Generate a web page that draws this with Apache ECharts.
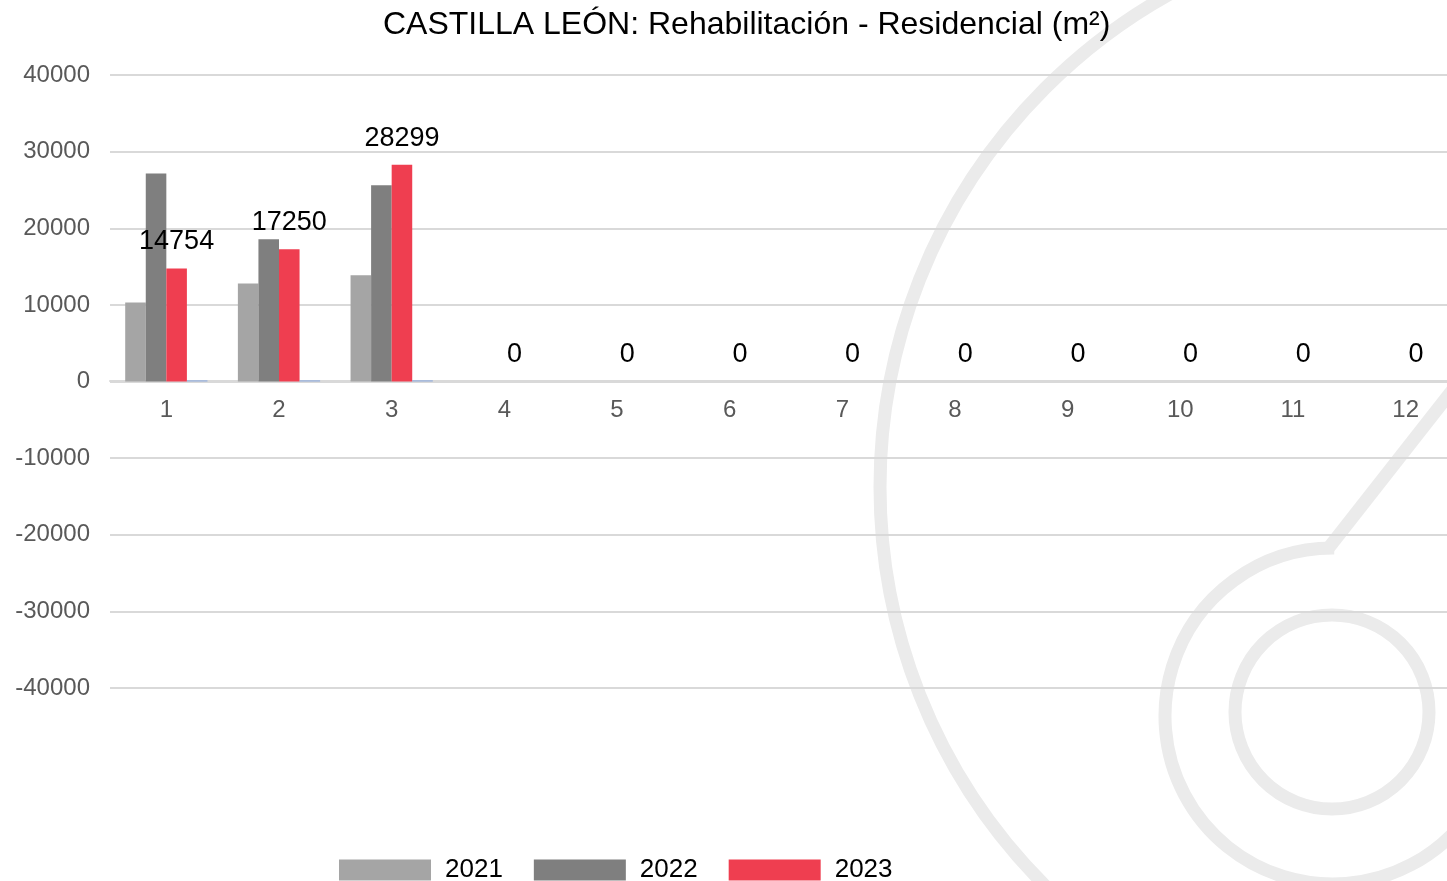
<!DOCTYPE html>
<html>
<head>
<meta charset="utf-8">
<title>CASTILLA LEÓN: Rehabilitación - Residencial</title>
<script src="https://cdn.jsdelivr.net/npm/echarts@6/dist/echarts.min.js"></script>
<style>
  html, body { margin: 0; padding: 0; background: #fff; }
  #chart { width: 1447px; height: 881px; }
</style>
</head>
<body>
<div id="chart"></div>
<script>
const months = ["1", "2", "3", "4", "5", "6", "7", "8", "9", "10", "11", "12"];
const serie2021 = [10300, 12800, 13850, null, null, null, null, null, null, null, null, null];
const serie2022 = [27150, 18550, 25600, null, null, null, null, null, null, null, null, null];
const serie2023 = [14754, 17250, 28299, 0, 0, 0, 0, 0, 0, 0, 0, 0];
// serie sin leyenda, casi a cero
const serieExtra = [150, 150, 150, null, null, null, null, null, null, null, null, null];
const yTicks = [-40000, 40000, 10000];

const chartDom = document.getElementById("chart");
const myChart = echarts.init(chartDom);

const watermark = "#ebebeb";
const font = "Liberation Sans";

const option = {
  animation: false,
  title: {
    text: "CASTILLA LEÓN: Rehabilitación - Residencial (m²)",
    left: 378,
    top: 4,
    textStyle: {
      fontFamily: font,
      fontSize: 32,
      fontWeight: "normal",
      color: "#000",
    },
  },
  graphic: [
    {
      type: "circle",
      z: -10,
      silent: true,
      shape: { cx: 1444, cy: 487, r: 564 },
      style: { fill: "none", stroke: watermark, lineWidth: 13 },
    },
    {
      type: "arc",
      z: -10,
      silent: true,
      shape: { cx: 1333, cy: 716, r: 168, startAngle: 0.3, endAngle: 4.72, clockwise: true },
      style: { fill: "none", stroke: watermark, lineWidth: 13 },
    },
    {
      type: "line",
      z: -10,
      silent: true,
      shape: { x1: 1327, y1: 550, x2: 1480, y2: 355 },
      style: { stroke: watermark, lineWidth: 13 },
    },
    {
      type: "circle",
      z: -10,
      silent: true,
      shape: { cx: 1332, cy: 712, r: 97 },
      style: { fill: "none", stroke: watermark, lineWidth: 13 },
    },
  ],
  legend: {
    data: ["2021", "2022", "2023"],
    left: 334,
    top: 852,
    itemWidth: 92,
    itemHeight: 21,
    itemGap: 31,
    icon: "rect",
    textStyle: {
      fontFamily: font,
      fontSize: 26,
      color: "#000",
      padding: [0, 0, 0, 9],
    },
  },
  grid: {
    left: 110,
    top: 75,
    width: 1352,
    height: 613,
    containLabel: false,
    outerBoundsMode: "none",
  },
  xAxis: {
    type: "category",
    data: months,
    position: "bottom",
    offset: -307,
    axisLine: { show: true, onZero: false, lineStyle: { color: "#d9d9d9", width: 2 } },
    axisTick: { show: false },
    axisLabel: {
      margin: 17,
      fontFamily: font,
      fontSize: 24,
      color: "#595959",
    },
  },
  yAxis: {
    type: "value",
    min: yTicks[0],
    max: yTicks[1],
    interval: yTicks[2],
    axisLine: { show: false },
    axisTick: { show: false },
    axisLabel: {
      margin: 20,
      fontFamily: font,
      fontSize: 24,
      color: "#595959",
      formatter: (v) => String(v),
    },
    splitLine: { lineStyle: { color: "#d9d9d9", width: 2 } },
  },
  series: [
    {
      name: "2021",
      type: "bar",
      data: serie2021,
      barGap: "0%",
      barCategoryGap: "27%",
      itemStyle: { color: "#a5a5a5" },
    },
    {
      name: "2022",
      type: "bar",
      data: serie2022,
      itemStyle: { color: "#7f7f7f" },
    },
    {
      name: "2023",
      type: "bar",
      data: serie2023,
      itemStyle: { color: "#ef3e50" },
      label: {
        show: true,
        position: "top",
        distance: 13,
        fontFamily: font,
        fontSize: 27,
        color: "#000",
      },
    },
    {
      name: "extra",
      type: "bar",
      data: serieExtra,
      itemStyle: { color: "#8faadc" },
    },
  ],
};

myChart.setOption(option);

window.addEventListener("resize", function () {
  myChart.resize();
});
</script>
</body>
</html>
